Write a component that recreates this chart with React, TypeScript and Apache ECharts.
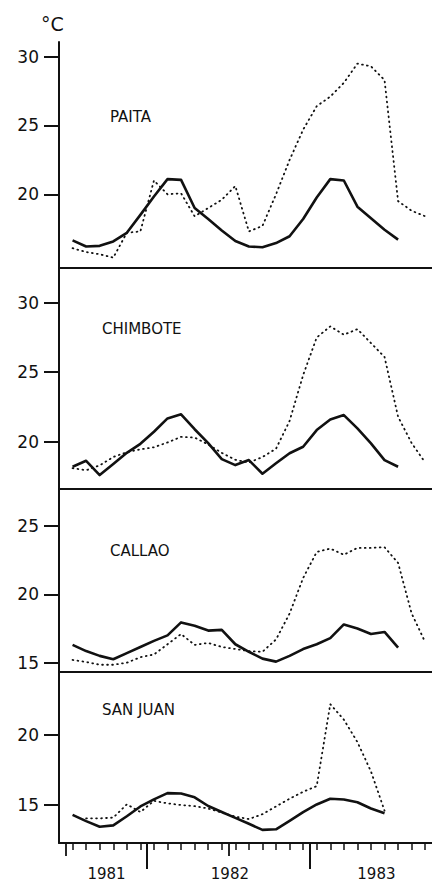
import React, { useEffect, useRef } from "react";
import * as echarts from "echarts";

// Months counted from January 1981 = 0; the first plotted month is July 1981.
const firstMonth = 6;

// Long-term mean (solid) and 1981-83 observed (dotted), °C
const paitaMean = [16.65, 16.2, 16.25, 16.57, 17.2, 18.5, 19.84, 21.1, 21.05, 19.0, 18.2, 17.37, 16.6, 16.2, 16.15, 16.45, 16.95, 18.2, 19.77, 21.1, 21.0, 19.1, 18.26, 17.42, 16.7];
const paitaObserved = [16.08, 15.8, 15.64, 15.39, 17.2, 17.3, 21.0, 20.0, 20.07, 18.4, 19.0, 19.6, 20.6, 17.3, 17.7, 20.0, 22.5, 24.7, 26.4, 27.1, 28.1, 29.5, 29.3, 28.3, 19.5, 18.8, 18.4];

const chimboteMean = [18.2, 18.63, 17.6, 18.4, 19.2, 19.85, 20.72, 21.68, 21.97, 20.9, 19.9, 18.75, 18.32, 18.68, 17.7, 18.45, 19.17, 19.64, 20.84, 21.6, 21.92, 20.96, 19.88, 18.68, 18.2];
const chimboteObserved = [18.1, 17.95, 18.3, 18.9, 19.25, 19.45, 19.6, 19.95, 20.35, 20.3, 19.8, 19.2, 18.7, 18.5, 18.9, 19.5, 21.5, 24.8, 27.5, 28.3, 27.7, 28.1, 27.1, 26.1, 21.8, 19.9, 18.5];

const callaoMean = [16.3, 15.85, 15.5, 15.25, 15.7, 16.15, 16.6, 17.0, 17.95, 17.7, 17.35, 17.4, 16.35, 15.8, 15.3, 15.08, 15.5, 16.0, 16.35, 16.8, 17.8, 17.5, 17.1, 17.25, 16.1];
const callaoObserved = [15.2, 15.05, 14.85, 14.85, 15.0, 15.4, 15.6, 16.35, 17.1, 16.3, 16.45, 16.15, 16.0, 15.85, 15.8, 16.7, 18.6, 21.2, 23.1, 23.35, 22.9, 23.4, 23.4, 23.45, 22.3, 18.6, 16.5];

const sanJuanMean = [14.3, 13.85, 13.45, 13.55, 14.2, 14.9, 15.4, 15.85, 15.82, 15.55, 14.93, 14.5, 14.08, 13.66, 13.23, 13.27, 13.87, 14.5, 15.04, 15.45, 15.4, 15.2, 14.75, 14.42];
const sanJuanObserved = [null, 14.05, 14.05, 14.1, 15.05, 14.5, 15.3, 15.12, 15.0, 14.92, 14.75, 14.46, 14.17, 14.0, 14.35, 14.9, 15.45, 15.95, 16.35, 22.2, 21.1, 19.5, 17.4, 14.6];

const stationNames = ["PAITA", "CHIMBOTE", "CALLAO", "SAN JUAN"];
const meanSeries = [paitaMean, chimboteMean, callaoMean, sanJuanMean];
const observedSeries = [paitaObserved, chimboteObserved, callaoObserved, sanJuanObserved];
const yTickValues = [[20, 25, 30], [20, 25, 30], [15, 20, 25], [15, 20]];

const yearLabels = ["1981", "1982", "1983"];
const yearLabelMonths = [8.5, 17.6, 28.4];
const yearBoundaryMonths = [11.5, 23.5];
const halfYearMonths = [5.5, 17.5];
const monthTicks = [6, 7, 8, 9, 10, 11, 12, 13, 14, 15, 16, 17, 18, 19, 20, 21, 22, 23, 24, 25, 26, 27, 28, 29, 30, 31, 32];

// Layout (pixels) and axis ranges
const panelTops = [42, 268, 489, 672];
const panelHeights = [226, 221, 183, 171];
const yRanges = [[14.64, 31.07], [16.6, 32.5], [14.32, 27.71], [12.29, 24.5]];
const labelPos = [[110, 117], [102, 329], [110, 551], [102, 710]];

const INK = "#111";
const FONT = "DejaVu Sans";

function toPairs(values: (number | null)[]) {
  return values
    .map((v, i) => [firstMonth + i, v])
    .filter((p) => p[1] !== null);
}

export default function App() {
  const ref = useRef<HTMLDivElement>(null);

  useEffect(() => {
    if (!ref.current) return;
    const chart = echarts.init(ref.current, undefined, { renderer: "svg" });

    const grids = panelTops.map((top, i) => ({
      left: 59,
      right: 0,
      top,
      height: panelHeights[i],
      containLabel: false,
    }));

    const xAxes: any[] = panelTops.map((_, i) => ({
      type: "value",
      gridIndex: i,
      min: 5,
      max: 32.5,
      position: "bottom",
      axisLine: { show: true, onZero: false, lineStyle: { color: INK, width: 2 } },
      axisTick:
        i === 3
          ? { show: true, customValues: monthTicks, length: 7, lineStyle: { color: INK, width: 1.5 } }
          : { show: false },
      axisLabel: { show: false },
      splitLine: { show: false },
    }));
    // year boundary ticks + year labels
    xAxes.push({
      type: "value",
      gridIndex: 3,
      min: 5,
      max: 32.5,
      position: "bottom",
      axisLine: { show: false },
      axisTick: { show: true, customValues: yearBoundaryMonths, length: 26, lineStyle: { color: INK, width: 2 } },
      axisLabel: {
        show: true,
        customValues: yearLabelMonths,
        margin: 23,
        fontSize: 15,
        fontFamily: FONT,
        color: INK,
        formatter: (v: number) => {
          const k = yearLabelMonths.indexOf(v);
          return k >= 0 ? yearLabels[k] : "";
        },
      },
      splitLine: { show: false },
    });
    // half-year ticks
    xAxes.push({
      type: "value",
      gridIndex: 3,
      min: 5,
      max: 32.5,
      position: "bottom",
      axisLine: { show: false },
      axisTick: { show: true, customValues: halfYearMonths, length: 13, lineStyle: { color: INK, width: 1.8 } },
      axisLabel: { show: false },
      splitLine: { show: false },
    });

    const yAxes = panelTops.map((_, i) => ({
      type: "value",
      gridIndex: i,
      min: yRanges[i][0],
      max: yRanges[i][1],
      position: "left",
      axisLine: { show: true, lineStyle: { color: INK, width: 2 } },
      axisTick: { show: true, customValues: yTickValues[i], length: 15, lineStyle: { color: INK, width: 2 } },
      axisLabel: {
        show: true,
        customValues: yTickValues[i],
        margin: 20,
        fontSize: 17,
        fontFamily: FONT,
        color: INK,
      },
      splitLine: { show: false },
    }));

    const series: any[] = [];
    stationNames.forEach((name, i) => {
      series.push({
        name: name + " mean",
        type: "line",
        xAxisIndex: i,
        yAxisIndex: i,
        data: toPairs(meanSeries[i]),
        showSymbol: false,
        symbol: "none",
        lineStyle: { color: INK, width: 2.6, join: "round" },
        z: 3,
      });
      series.push({
        name: name + " 1981-83",
        type: "line",
        xAxisIndex: i,
        yAxisIndex: i,
        data: toPairs(observedSeries[i]),
        showSymbol: false,
        symbol: "none",
        lineStyle: { color: INK, width: 1.8, type: [0.8, 4.2], cap: "round" },
        z: 2,
      });
    });

    const graphics: any[] = [
      {
        type: "text",
        left: 41,
        top: 14,
        style: { text: "°C", fontSize: 19, fontFamily: FONT, fill: INK },
      },
      ...stationNames.map((name, i) => ({
        type: "text",
        x: labelPos[i][0],
        y: labelPos[i][1],
        style: {
          text: name,
          fontSize: 15,
          fontFamily: FONT,
          fill: INK,
          verticalAlign: "middle",
        },
      })),
    ];

    chart.setOption({
      animation: false,
      backgroundColor: "#fff",
      grid: grids,
      xAxis: xAxes,
      yAxis: yAxes,
      series,
      graphic: graphics,
    });

    return () => chart.dispose();
  }, []);

  return (
    <div
      ref={ref}
      style={{ position: "absolute", left: 0, top: 0, width: 432, height: 883, background: "#fff" }}
    />
  );
}
